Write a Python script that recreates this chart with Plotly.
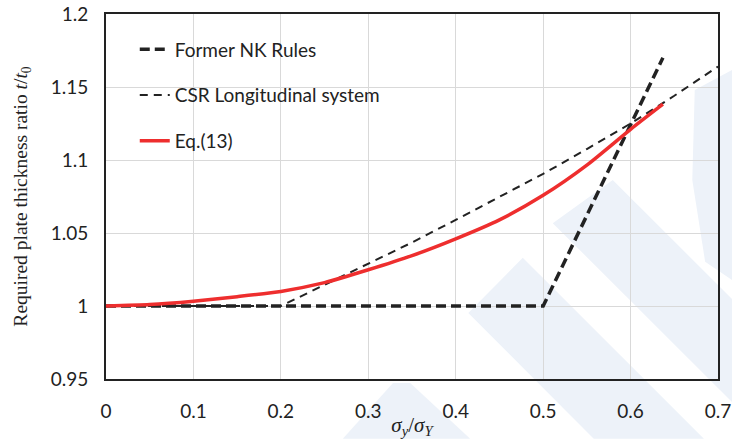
import plotly.graph_objects as go

# Normalised longitudinal stress sigma_y / sigma_Y
x_nk = [0.0, 0.5, 0.637]
t_nk = [1.0, 1.0, 1.170]

x_csr = [0.0, 0.2, 0.25, 0.3, 0.35, 0.4, 0.45, 0.5, 0.55, 0.6, 0.65, 0.7]
t_csr = [1.0, 1.0, 1.0145, 1.029, 1.0435, 1.059, 1.0745, 1.0905, 1.1075, 1.125, 1.144, 1.164]

x_eq = [0.0, 0.05, 0.1, 0.15, 0.2, 0.25, 0.3, 0.35, 0.4, 0.45, 0.5, 0.55, 0.6, 0.637]
t_eq = [1.0, 1.0010, 1.0033, 1.0064, 1.0100, 1.0160, 1.0248, 1.0345, 1.0460,
        1.0590, 1.0758, 1.0965, 1.1210, 1.1382]

x_ticks = [0, 0.1, 0.2, 0.3, 0.4, 0.5, 0.6, 0.7]
x_tick_text = ["0", "0.1", "0.2", "0.3", "0.4", "0.5", "0.6", "0.7"]
y_ticks = [0.95, 1.0, 1.05, 1.1, 1.15, 1.2]
y_tick_text = ["0.95", "1", "1.05", "1.1", "1.15", "1.2"]

DARK = "#222222"
RED = "#EE2E2E"
TICK_FONT = dict(family="Lato, 'Open Sans', sans-serif", size=19, color="#222222")
SERIF = "'Liberation Serif', 'DejaVu Serif', serif"

fig = go.Figure()
fig.add_trace(go.Scatter(
    x=x_nk, y=t_nk, mode="lines", name="Former NK Rules", legendgroup="a",
    line=dict(color=DARK, width=3.5, dash="10px,5px"),
))
fig.add_trace(go.Scatter(
    x=x_csr, y=t_csr, mode="lines", name="CSR Longitudinal system", legendgroup="b",
    line=dict(color=DARK, width=2, dash="8px,6px"),
))
fig.add_trace(go.Scatter(
    x=x_eq, y=t_eq, mode="lines", name="Eq.(13)", legendgroup="c",
    line=dict(color=RED, width=3.5, shape="spline", smoothing=0.6),
))

# faint background logo bands
bands = [
    [(0.387, -0.164), (0.469, -0.011), (0.497, -0.011), (0.595, -0.164)],
    [(0.592, 0.181), (0.681, 0.332), (0.977, -0.164), (0.797, -0.164)],
    [(0.730, 0.427), (0.828, 0.545), (1.023, 0.219), (1.023, -0.063)],
    [(0.962, 0.792), (1.023, 0.847), (1.023, 0.271), (0.979, 0.321), (0.958, 0.545)],
]
shapes = []
for poly in bands:
    path = "M " + " L ".join(f"{px},{py}" for px, py in poly) + " Z"
    shapes.append(dict(type="path", path=path, xref="paper", yref="paper",
                       fillcolor="#edf2f9", line=dict(width=0), layer="below"))

fig.update_layout(
    width=732, height=439,
    margin=dict(l=106, r=14, t=14, b=60),
    paper_bgcolor="white",
    plot_bgcolor="rgba(0,0,0,0)",
    shapes=shapes,
    showlegend=True,
    legend=dict(
        x=0.047, y=0.955, xanchor="left", yanchor="top",
        bgcolor="rgba(0,0,0,0)", borderwidth=0,
        font=dict(family="Lato, 'Open Sans', sans-serif", size=19, color="#222222"),
        tracegroupgap=18,
    ),
    xaxis=dict(
        range=[0, 0.7], tickvals=x_ticks, ticktext=x_tick_text, automargin=False,
        showgrid=True, gridcolor="#d9d9d9", gridwidth=1, zeroline=False,
        showline=True, linecolor=DARK, linewidth=2, mirror=True,
        ticks="", ticklabelstandoff=14, tickfont=TICK_FONT,
        title=dict(text="<i>σ</i><sub><i>y</i></sub>/<i>σ</i><sub><i>Y</i></sub>",
                   font=dict(family=SERIF, size=21, color="#222222"), standoff=0),
    ),
    yaxis=dict(
        range=[0.95, 1.2], tickvals=y_ticks, ticktext=y_tick_text, automargin=False,
        showgrid=True, gridcolor="#d9d9d9", gridwidth=1, zeroline=False,
        showline=True, linecolor=DARK, linewidth=2, mirror=True,
        ticks="", ticklabelstandoff=12, tickfont=TICK_FONT,
        title=dict(text="Required plate thickness ratio <i>t</i>/<i>t</i><sub>0</sub>",
                   font=dict(family=SERIF, size=19.5, color="#222222"), standoff=18),
    ),
)

fig.write_html("out.html")
